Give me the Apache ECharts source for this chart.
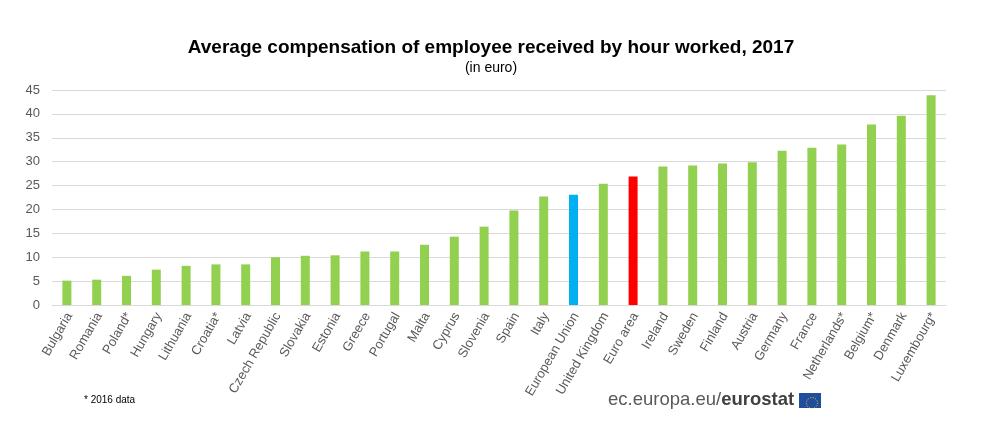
<!DOCTYPE html>
<html>
<head>
<meta charset="utf-8">
<script src="https://cdn.jsdelivr.net/npm/echarts@6/dist/echarts.min.js"></script>
<style>
html,body{margin:0;padding:0;background:#fff;}
#chart{width:982px;height:447px;}
</style>
</head>
<body>
<div id="chart"></div>
<script>
var countries = ['Bulgaria','Romania','Poland*','Hungary','Lithuania','Croatia*','Latvia','Czech Republic','Slovakia','Estonia','Greece','Portugal','Malta','Cyprus','Slovenia','Spain','Italy','European Union','United Kingdom','Euro area','Ireland','Sweden','Finland','Austria','Germany','France','Netherlands*','Belgium*','Denmark','Luxembourg*'];
var values = [5.1,5.3,6.1,7.4,8.2,8.5,8.5,10.0,10.3,10.4,11.2,11.2,12.6,14.3,16.4,19.8,22.7,23.1,25.4,26.9,29.0,29.2,29.6,29.9,32.3,32.9,33.6,37.8,39.6,43.9];
var yTicks = [0,5,10,15,20,25,30,35,40,45];

var barColor = function(name){
	if(name == 'European Union') return '#00b0f0';
	if(name == 'Euro area') return '#ff0000';
	return '#92d050';
};

var chart = echarts.init(document.getElementById('chart'));
var option = {
	backgroundColor:'#fff',
	animation:false,
	textStyle:{fontFamily:'Liberation Sans, Arial, sans-serif'},
	title:[{
		text:'Average compensation of employee received by hour worked, 2017',
		left:'center',
		top:33,
		textStyle:{fontSize:19,fontWeight:'bold',color:'#000'}
	},{
		text:'(in euro)',
		left:'center',
		top:56,
		textStyle:{fontSize:14,fontWeight:'normal',color:'#000'}
	}],
	grid:{left:52,right:36,top:90,bottom:142,containLabel:false},
	xAxis:{
		type:'category',
		data:countries,
		axisTick:{show:false},
		axisLine:{lineStyle:{color:'#d9d9d9'}},
		axisLabel:{rotate:60,interval:0,color:'#595959',fontSize:13,margin:13,padding:[0,-5,0,0]}
	},
	yAxis:{
		type:'value',
		min:yTicks[0],
		max:yTicks[yTicks.length-1],
		interval:5,
		axisLine:{show:false},
		axisTick:{show:false},
		axisLabel:{color:'#595959',fontSize:13,margin:12},
		splitLine:{lineStyle:{color:'#d9d9d9'}}
	},
	series:[{
		type:'bar',
		barWidth:9,
		data:values.map(function(v,i){
			return {value:v,itemStyle:{color:barColor(countries[i])}};
		})
	}],
	graphic:[
		{type:'text',left:84,top:395,style:{text:'* 2016 data',fontSize:10,fill:'#000',font:'10px Liberation Sans, Arial, sans-serif'}},
		{type:'text',left:608,top:390,style:{rich:{a:{fontSize:18.5,fill:'#595959',fontFamily:'Liberation Sans, Arial'},b:{fontSize:18.5,fontWeight:'bold',fill:'#404040',fontFamily:'Liberation Sans, Arial'}},text:'{a|ec.europa.eu/}{b|eurostat}'}},
		{type:'rect',left:799,top:393,shape:{width:22,height:15},style:{fill:'#1f4e9c'}},
		{type:'circle',left:804,top:395,shape:{r:5.5},style:{fill:'none',stroke:'#ffd200',lineWidth:1,lineDash:[1,1.6]}}
	]
};
chart.setOption(option);
</script>
</body>
</html>
